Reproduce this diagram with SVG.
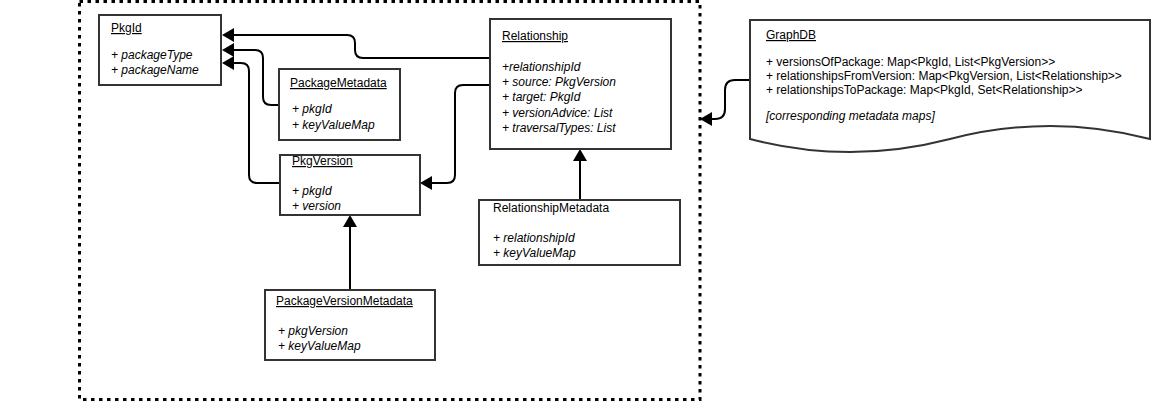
<svg xmlns="http://www.w3.org/2000/svg" width="1170" height="420" viewBox="0 0 1170 420">
<defs>
<style>
.box{fill:#fff;stroke:#333;stroke-width:2}
.frame{fill:none;stroke:#000;stroke-width:3;stroke-dasharray:3.5 4.5}
.edge{fill:none;stroke:#000;stroke-width:2}
text{font-family:"Liberation Sans",Arial,sans-serif;font-size:12px;fill:#000}
.t{text-decoration:underline}
.a{font-style:italic}
</style>
<marker id="arr" markerUnits="userSpaceOnUse" viewBox="0 0 12 14" markerWidth="12" markerHeight="14" refX="0" refY="7" orient="auto">
<path d="M0,0 L12,7 L0,14 z" fill="#000"/>
</marker>
</defs>
<rect class="frame" x="79.5" y="1.5" width="620.5" height="398"/>
<g id="connectors">
<path class="edge" marker-end="url(#arr)" d="M490,58 H363 Q355,58 355,50 V43 Q355,35 347,35 H234"/>
<path class="edge" marker-end="url(#arr)" d="M279,105 H271 Q263,105 263,97 V58 Q263,50 255,50 H234"/>
<path class="edge" marker-end="url(#arr)" d="M280,183 H257 Q249,183 249,175 V71 Q249,63 241,63 H234"/>
<path class="edge" marker-end="url(#arr)" d="M490,85 H463 Q455,85 455,93 V175 Q455,183 447,183 H432"/>
<path class="edge" marker-end="url(#arr)" d="M580,200 V161"/>
<path class="edge" marker-end="url(#arr)" d="M350,290 V227"/>
<path class="edge" marker-end="url(#arr)" d="M750,80 H735 Q725,80 725,90 V109 Q725,119 715,119 H712"/>
</g>
<g id="PkgId">
<rect class="box" x="99" y="15" width="122" height="70"/>
<text class="t" x="111" y="32">PkgId</text>
<text class="a" x="111" y="59">+ packageType</text>
<text class="a" x="111" y="74">+ packageName</text>
</g>
<g id="PackageMetadata">
<rect class="box" x="279" y="69" width="121" height="71"/>
<text class="t" x="290" y="87">PackageMetadata</text>
<text class="a" x="292" y="113">+ pkgId</text>
<text class="a" x="292" y="129">+ keyValueMap</text>
</g>
<g id="Relationship">
<rect class="box" x="490" y="19" width="181" height="130"/>
<text class="t" x="502" y="40">Relationship</text>
<text class="a" x="502" y="71">+relationshipId</text>
<text class="a" x="502" y="86">+ source: PkgVersion</text>
<text class="a" x="502" y="101">+ target: PkgId</text>
<text class="a" x="502" y="117">+ versionAdvice: List</text>
<text class="a" x="502" y="132">+ traversalTypes: List</text>
</g>
<g id="PkgVersion">
<rect class="box" x="280" y="155" width="140" height="60"/>
<text class="t" x="292" y="165">PkgVersion</text>
<text class="a" x="292" y="195">+ pkgId</text>
<text class="a" x="292" y="210">+ version</text>
</g>
<g id="RelationshipMetadata">
<rect class="box" x="479" y="200" width="201" height="65"/>
<text x="493" y="212">RelationshipMetadata</text>
<text class="a" x="493" y="242">+ relationshipId</text>
<text class="a" x="493" y="257">+ keyValueMap</text>
</g>
<g id="PackageVersionMetadata">
<rect class="box" x="265" y="290" width="170" height="70"/>
<text class="t" x="276" y="305">PackageVersionMetadata</text>
<text class="a" x="278" y="335">+ pkgVersion</text>
<text class="a" x="278" y="350">+ keyValueMap</text>
</g>
<g id="GraphDB">
<path class="box" d="M750,20 H1150 V139 Q1050,113 950,139 Q850,165 750,139 Z"/>
<text class="t" x="766" y="39">GraphDB</text>
<text x="766" y="66">+ versionsOfPackage: Map&lt;PkgId, List&lt;PkgVersion&gt;&gt;</text>
<text x="766" y="80">+ relationshipsFromVersion: Map&lt;PkgVersion, List&lt;Relationship&gt;&gt;</text>
<text x="766" y="93.5">+ relationshipsToPackage: Map&lt;PkgId, Set&lt;Relationship&gt;&gt;</text>
<text class="a" x="766" y="120">[corresponding metadata maps]</text>
</g>
</svg>
